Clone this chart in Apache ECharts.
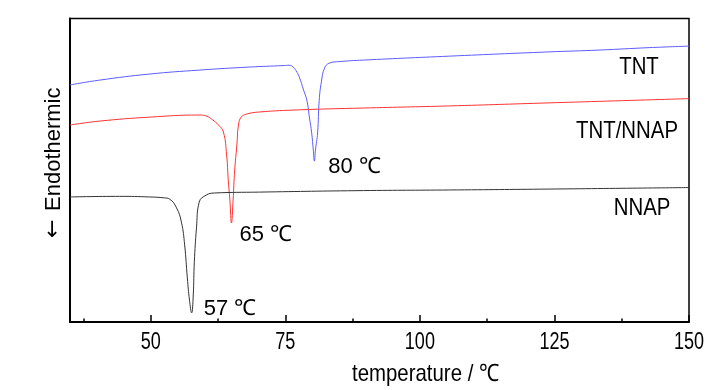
<!DOCTYPE html>
<html>
<head>
<meta charset="utf-8">
<script src="https://cdn.jsdelivr.net/npm/echarts@6/dist/echarts.min.js"></script>
<style>html,body{margin:0;padding:0;background:#fff}#c{width:728px;height:390px}</style>
</head>
<body>
<div id="c"></div>
<script>
// ---- data (temperature in °C, heat flow in arbitrary units) ----
const tntT = [35, 40.5, 49.8, 59.0, 68.3, 74.8, 75.7, 76.4, 77.0, 77.6, 78.4, 79.0, 79.5, 79.9, 80.2, 80.4, 80.6, 81.0, 81.3, 81.7, 82.3, 83.2, 85.0, 89.5, 105.5, 124.0, 133.3, 142.6, 150];
const tntV = [78.1, 79.7, 81.7, 83.0, 84.0, 84.5, 84.6, 84.1, 82.8, 80.7, 76.4, 73.1, 67.2, 62.3, 56.7, 53.0, 56.7, 62.3, 73.1, 79.1, 83.7, 85.3, 85.8, 86.3, 87.6, 89.0, 89.6, 90.4, 90.9];

const mixT = [35, 40.5, 49.8, 59.0, 60.3, 61.5, 62.6, 63.5, 64.1, 64.4, 64.7, 65.0, 65.3, 65.6, 66.0, 66.3, 66.8, 67.8, 70.2, 77.6, 89.5, 105.5, 124.0, 133.3, 150];
const mixV = [64.9, 66.2, 67.5, 68.2, 67.9, 66.6, 64.9, 62.6, 55.0, 46.8, 40.2, 32.6, 40.2, 50.1, 58.3, 64.9, 67.5, 68.5, 69.2, 69.9, 70.5, 71.2, 72.2, 72.7, 73.6];

const nnapT = [35, 44.2, 49.8, 52.5, 53.5, 54.8, 55.7, 56.3, 56.8, 57.2, 57.6, 57.9, 58.1, 58.5, 59.0, 60.3, 61.8, 70.2, 89.5, 105.5, 124.0, 150];
const nnapV = [41.2, 41.4, 41.2, 40.9, 40.5, 37.6, 32.9, 25.4, 14.5, 7.2, 3.0, 8.9, 19.8, 31.0, 39.5, 41.8, 42.5, 42.8, 43.3, 43.5, 43.8, 44.3];

const seriesNames = ['TNT', 'TNT/NNAP', 'NNAP'];
const peakLabels = ['80 ℃', '65 ℃', '57 ℃'];
const peakT = [80.4, 65.0, 57.6];
const peakV = [53.0, 32.6, 3.0];

const majorTicks = [50, 75, 100, 125, 150];
const tickLabels = ['50', '75', '100', '125', '150'];
const minorTicks = [37.5, 62.5, 87.5, 112.5, 137.5];
const xTitle = 'temperature / ℃';
const yTitle = 'Endothermic';
const yArrow = '←';

// ---- chart ----
const FONT = '"Liberation Sans", Arial, sans-serif';
const pair = (xs, ys) => xs.map((x, i) => [x, ys[i]]);
const chart = echarts.init(document.getElementById('c'), null, {renderer: 'canvas'});

const lineCommon = {type: 'line', showSymbol: false, smooth: 0.45};

const option = {
  animation: false,
  grid: {left: 70, right: 39, top: 18.5, bottom: 68, show: true, borderColor: '#000', borderWidth: 1.5, backgroundColor: 'transparent'},
  xAxis: [{
    type: 'value', min: 35, max: 150,
    axisLine: {show: true, lineStyle: {color: '#000', width: 2}},
    axisTick: {show: true, inside: true, length: 7, customValues: majorTicks, lineStyle: {color: '#000', width: 1.5}},
    axisLabel: {show: false},
    splitLine: {show: false}
  }, {
    type: 'value', min: 35, max: 150, position: 'bottom',
    axisLine: {show: false},
    axisTick: {show: true, inside: true, length: 3.5, customValues: minorTicks, lineStyle: {color: '#000', width: 1.5}},
    axisLabel: {show: false},
    splitLine: {show: false}
  }],
  yAxis: {
    type: 'value', min: 0, max: 100,
    axisLine: {show: true, lineStyle: {color: '#000', width: 2}},
    axisTick: {show: false}, axisLabel: {show: false}, splitLine: {show: false}
  },
  series: [
    Object.assign({name: seriesNames[0], data: pair(tntT, tntV), lineStyle: {color: '#5c5cff', width: 1}}, lineCommon),
    Object.assign({name: seriesNames[1], data: pair(mixT, mixV), lineStyle: {color: '#ff3333', width: 1}}, lineCommon),
    Object.assign({name: seriesNames[2], data: pair(nnapT, nnapV), lineStyle: {color: '#333333', width: 1}}, lineCommon)
  ]
};
chart.setOption(option);

// ---- texts placed through the axis scales ----
const narrow = (text, x, y, size, sx, align, sy) => ({
  type: 'text', x: x, y: y, scaleX: sx, scaleY: sy || 1,
  style: {text: text, fill: '#000', font: size + 'px ' + FONT, align: align || 'center', verticalAlign: 'middle'}
});
const g = [];
const axisY = chart.convertToPixel({yAxisIndex: 0}, 0);
majorTicks.forEach((v, i) => {
  const px = chart.convertToPixel({xAxisIndex: 0}, v);
  g.push(narrow(tickLabels[i], px, axisY + 20, 22, 0.82, 'center', 1.1));
});
const peakOffsets = [[14, 6], [8, 12], [12, -4]];
peakT.forEach((t, i) => {
  const p = chart.convertToPixel({xAxisIndex: 0, yAxisIndex: 0}, [t, peakV[i]]);
  g.push(narrow(peakLabels[i], p[0] + peakOffsets[i][0], p[1] + peakOffsets[i][1], 22, 1, 'left'));
});
g.push(narrow(xTitle, 352, 374, 24, 0.85, 'left'));
g.push(narrow(seriesNames[0], 639, 67, 24, 0.85));
g.push(narrow(seriesNames[1], 627, 131, 24, 0.85));
g.push(narrow(seriesNames[2], 642, 208, 24, 0.85));
g.push({type: 'text', x: 43, y: 211, rotation: Math.PI / 2,
        style: {text: yTitle, fill: '#000', font: '22px ' + FONT}});
g.push({type: 'text', x: 42, y: 238, rotation: Math.PI / 2,
        style: {text: yArrow, fill: '#000', font: '22px "DejaVu Sans", sans-serif'}});
chart.setOption({graphic: g});
</script>
</body>
</html>
